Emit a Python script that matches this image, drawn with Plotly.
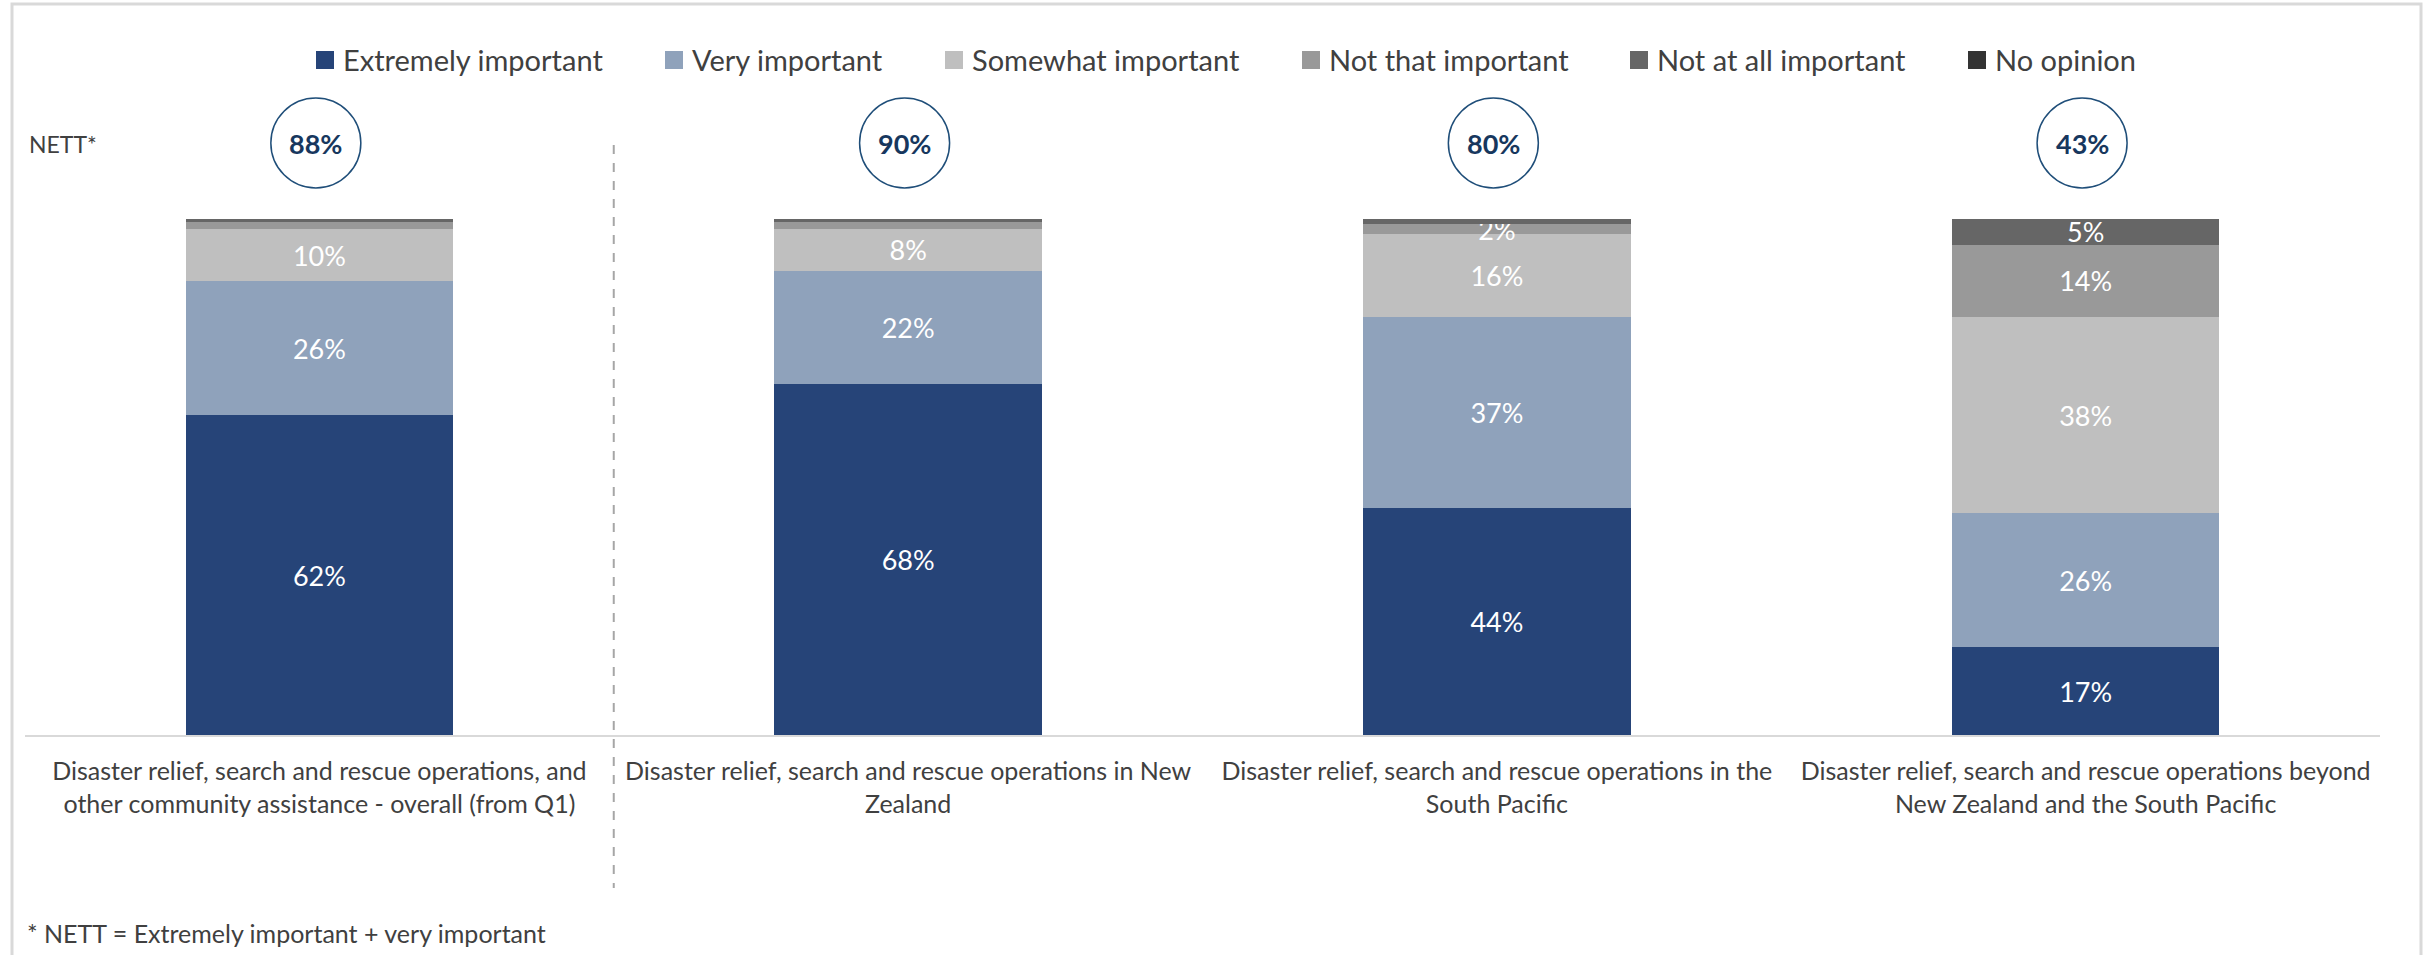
import plotly.graph_objects as go

# ---- data -------------------------------------------------------------
categories = [
    "Disaster relief, search and rescue operations, and<br>other community assistance - overall (from Q1)",
    "Disaster relief, search and rescue operations in New<br>Zealand",
    "Disaster relief, search and rescue operations in the<br>South Pacific",
    "Disaster relief, search and rescue operations beyond<br>New Zealand and the South Pacific",
]
series_names = [
    "Extremely important",
    "Very important",
    "Somewhat important",
    "Not that important",
    "Not at all important",
    "No opinion",
]
extremely_important = [62, 68, 44, 17]
very_important = [26, 22, 37, 26]
somewhat_important = [10, 8, 16, 38]
not_that_important = [1.5, 1.4, 2, 14]
not_at_all_important = [0.5, 0.6, 1, 5]
no_opinion = [0, 0, 0, 0]
nett = [88, 90, 80, 43]

series_values = [
    extremely_important,
    very_important,
    somewhat_important,
    not_that_important,
    not_at_all_important,
    no_opinion,
]
colors = ["#264478", "#8FA2BB", "#BFBFBF", "#999999", "#666666", "#333333"]

# ---- geometry helpers (page pixels -> paper coords) ---------------------
W, H = 2425, 955
ML, MR, MT, MB = 25, 45, 219, 220
PW, PH = W - ML - MR, H - MT - MB


def px_x(px):
    return (px - ML) / PW


def px_y(py):
    return (H - MB - py) / PH


FONT = "Lato, 'Open Sans', sans-serif"
TEXT_GREY = "#404040"

fig = go.Figure()

x_idx = list(range(len(categories)))
for name, vals, col in zip(series_names, series_values, colors):
    labels = [f"{v:.0f}%" if v >= 2 else "" for v in vals]
    fig.add_trace(
        go.Bar(
            name=name,
            x=x_idx,
            y=vals,
            marker=dict(color=col, line=dict(width=0)),
            text=labels,
            textposition="inside",
            insidetextanchor="middle",
            textangle=0,
            textfont=dict(family=FONT, size=27, color="white"),
            cliponaxis=False,
            showlegend=False,
        )
    )

shapes = []
annotations = []

# outer frame
shapes.append(dict(
    type="rect", xref="paper", yref="paper",
    x0=px_x(12), x1=px_x(2421), y0=px_y(970), y1=px_y(4),
    line=dict(color="#D9D9D9", width=3), fillcolor="rgba(0,0,0,0)", layer="below",
))

# divider between the overall bar and the breakdown
shapes.append(dict(
    type="line", xref="x", yref="paper",
    x0=0.5, x1=0.5, y0=px_y(145), y1=px_y(888),
    line=dict(color="#A6A6A6", width=2, dash="dash"),
))

# legend drawn as squares + labels
legend_x = [316, 665, 945, 1302, 1630, 1968]
for name, col, lx in zip(series_names, colors, legend_x):
    shapes.append(dict(
        type="rect", xref="paper", yref="paper",
        x0=px_x(lx), x1=px_x(lx + 18), y0=px_y(69), y1=px_y(51),
        fillcolor=col, line=dict(width=0),
    ))
    annotations.append(dict(
        xref="paper", yref="paper", x=px_x(lx + 25), y=px_y(60),
        text=name, showarrow=False, xanchor="left", yanchor="middle",
        font=dict(family=FONT, size=29, color=TEXT_GREY),
    ))

# NETT circles
for i, v in enumerate(nett):
    shapes.append(dict(
        type="circle", xref="x", yref="paper",
        xsizemode="pixel", ysizemode="pixel",
        xanchor=i - 0.006, yanchor=px_y(143),
        x0=-45, x1=45, y0=-45, y1=45,
        line=dict(color="#1F4E79", width=1.5),
        fillcolor="rgba(0,0,0,0)",
    ))
    annotations.append(dict(
        xref="x", yref="paper", x=i - 0.006, y=px_y(143),
        text=f"<b>{v}%</b>", showarrow=False,
        xanchor="center", yanchor="middle",
        font=dict(family=FONT, size=27, color="#17375E"),
    ))

annotations.append(dict(
    xref="paper", yref="paper", x=px_x(27), y=px_y(144),
    text="NETT*", showarrow=False, xanchor="left", yanchor="middle",
    font=dict(family=FONT, size=23, color=TEXT_GREY),
))
annotations.append(dict(
    xref="paper", yref="paper", x=px_x(25), y=px_y(933),
    text="* NETT = Extremely important + very important", showarrow=False,
    xanchor="left", yanchor="middle",
    font=dict(family=FONT, size=25, color=TEXT_GREY),
))

fig.update_layout(
    width=W, height=H,
    margin=dict(l=ML, r=MR, t=MT, b=MB, pad=0),
    barmode="stack",
    bargap=0.546,
    paper_bgcolor="white",
    plot_bgcolor="white",
    showlegend=False,
    uniformtext=dict(mode="show", minsize=27),
    shapes=shapes,
    annotations=annotations,
    xaxis=dict(
        tickmode="array", tickvals=x_idx, ticktext=categories,
        range=[-0.5, 3.5],
        showline=True, linecolor="#D9D9D9", linewidth=2,
        showgrid=False, zeroline=False, ticks="",
        tickfont=dict(family=FONT, size=25, color=TEXT_GREY),
        ticklabelstandoff=13,
        fixedrange=True,
    ),
    yaxis=dict(
        range=[0, 100], visible=False, showgrid=False, zeroline=False,
        fixedrange=True,
    ),
)

fig.write_html("out.html")
